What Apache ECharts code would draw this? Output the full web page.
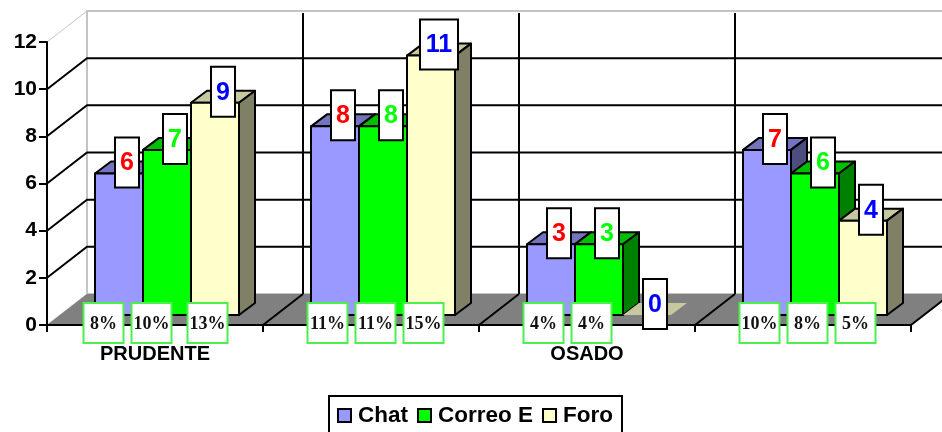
<!DOCTYPE html>
<html>
<head>
<meta charset="utf-8">
<style>
  html, body { margin: 0; padding: 0; background: #fff; overflow: hidden; }
  #chart { width: 942px; height: 432px; }
</style>
<script src="https://cdn.jsdelivr.net/npm/echarts@6/dist/echarts.min.js"></script>
</head>
<body>
<div id="chart"></div>
<script>
const categories = ['PRUDENTE', '', 'OSADO', '']
const yTicks = [2, 4, 6, 8, 10]

const chatValues = [6, 8, 3, 7]
const correoValues = [7, 8, 3, 6]
const foroValues = [9, 11, 0, 4]

const chatPercents = ['8%', '11%', '4%', '10%']
const correoPercents = ['10%', '11%', '4%', '8%']
const foroPercents = ['13%', '15%', '', '5%']

// fake 3d offsets, in pixels
const WALL_DX = 40
const WALL_DY = -31
const BAR_DX = 16
const BAR_DY = -12
const BAR_LIFT = 10

const SANS = '"Liberation Sans", Arial, sans-serif'

const wallItem = (params, api) => {
  const band = api.size([1, 0])[0]
  const left = api.coord([0, 0])[0] - band / 2
  const right = left + band * 4
  const y0 = api.coord([0, 0])[1]
  const y12 = api.coord([0, 12])[1]
  const children = []

  children.push({
    type: 'polygon',
    shape: { points: [[left, y0], [left + WALL_DX, y0 + WALL_DY], [left + WALL_DX, y12 + WALL_DY], [left, y12]] },
    style: { fill: '#fff', stroke: '#c4c4c4', lineWidth: 1 }
  })
  children.push({
    type: 'polygon',
    shape: { points: [[left + WALL_DX, y0 + WALL_DY], [right + WALL_DX, y0 + WALL_DY], [right + WALL_DX, y12 + WALL_DY], [left + WALL_DX, y12 + WALL_DY]] },
    style: { fill: '#fff', stroke: '#c4c4c4', lineWidth: 2 }
  })
  children.push({
    type: 'polygon',
    shape: { points: [[left, y0], [left + WALL_DX, y0 + WALL_DY], [right + WALL_DX, y0 + WALL_DY], [right, y0]] },
    style: { fill: '#808080' }
  })

  yTicks.forEach(t => {
    const y = api.coord([0, t])[1]
    children.push({
      type: 'polyline',
      shape: { points: [[left, y], [left + WALL_DX, y + WALL_DY], [right + WALL_DX, y + WALL_DY]] },
      style: { fill: 'none', stroke: '#000', lineWidth: 2 }
    })
  })

  for (let i = 1; i <= 4; i++) {
    const x = left + band * i
    if (i < 4) {
      children.push({
        type: 'line',
        shape: { x1: x + WALL_DX, y1: y12 + WALL_DY + 2, x2: x + WALL_DX, y2: y0 + WALL_DY },
        style: { stroke: '#000', lineWidth: 2 }
      })
    }
    children.push({
      type: 'line',
      shape: { x1: x, y1: y0, x2: x + WALL_DX, y2: y0 + WALL_DY },
      style: { stroke: '#000', lineWidth: 2 }
    })
  }

  return { type: 'group', children }
}

const labelBox = (cx, cy, w, h, border, text, color, font, z2) => ({
  type: 'group',
  children: [
    {
      type: 'rect',
      z2,
      shape: { x: cx - w / 2, y: cy - h / 2, width: w, height: h },
      style: { fill: '#fff', stroke: border, lineWidth: 2 }
    },
    {
      type: 'text',
      z2: z2 + 1,
      style: { x: cx, y: cy + 1, text, fill: color, font, align: 'center', verticalAlign: 'middle' }
    }
  ]
})

const barItem = (colors, seriesIndex, valueColor) => (params, api) => {
  const cat = api.value(0)
  const value = api.value(1)
  const percent = api.value(2)
  const band = api.size([1, 0])[0]
  const barW = band * 2 / 9
  const center = api.coord([cat, value])[0]
  const x0 = center - band * 5 / 18 + seriesIndex * barW
  const x1 = x0 + barW
  const top = api.coord([cat, value])[1] - BAR_LIFT
  const base = api.coord([cat, 0])[1] - BAR_LIFT
  // an empty bar is only a flat tan patch on the floor, no outline
  const line = value === 0
    ? { stroke: null }
    : { stroke: '#000', lineWidth: 2, lineJoin: 'round' }

  const children = [
    {
      type: 'polygon',
      shape: { points: [[x0, top], [x0 + BAR_DX, top + BAR_DY], [x1 + BAR_DX, top + BAR_DY], [x1, top]] },
      style: { fill: colors.top, ...line }
    },
    {
      type: 'polygon',
      shape: { points: [[x1, top], [x1 + BAR_DX, top + BAR_DY], [x1 + BAR_DX, base + BAR_DY], [x1, base]] },
      style: { fill: colors.side, ...line }
    },
    {
      type: 'rect',
      shape: { x: x0, y: top, width: barW, height: base - top },
      style: { fill: colors.front, ...line }
    },
    labelBox((x0 + x1 + BAR_DX) / 2, top + BAR_DY + 1, value > 9 ? 38 : 24, 50, '#000', String(value), valueColor,
      'bold 25px ' + SANS, 20)
  ]

  if (percent) {
    // the first two labels of PRUDENTE sit further left in the original
    const nudge = cat === 0 && seriesIndex < 2 ? -8 : 0
    children.push(labelBox(x0 + 16.5 + nudge, api.coord([cat, 0])[1] - 2, 40, 40, '#4cf04c', percent, '#111',
      'bold 18px "Liberation Serif", "Times New Roman", serif', 30))
  }

  return { type: 'group', children }
}

const barSeries = (name, values, percents, colors, seriesIndex, valueColor) => ({
  name,
  type: 'custom',
  z: 5,
  silent: true,
  renderItem: barItem(colors, seriesIndex, valueColor),
  encode: { x: 0, y: 1 },
  data: values.map((v, i) => [i, v, percents[i]])
})

const chart = echarts.init(document.getElementById('chart'))

chart.setOption({
  animation: false,
  backgroundColor: '#fff',
  grid: { left: 47, right: 31, top: 42, bottom: 107 },
  legend: {
    left: 329,
    top: 396,
    orient: 'horizontal',
    data: [
      { name: 'Chat', itemStyle: { color: '#9999ff', borderColor: '#000', borderWidth: 2 } },
      { name: 'Correo E', itemStyle: { color: '#00ff00', borderColor: '#000', borderWidth: 2 } },
      { name: 'Foro', itemStyle: { color: '#ffffcc', borderColor: '#000', borderWidth: 2 } }
    ],
    icon: 'rect',
    itemWidth: 13,
    itemHeight: 13,
    itemGap: 9,
    padding: [8, 9, 30, 8],
    backgroundColor: '#fff',
    borderColor: '#000',
    borderWidth: 2,
    textStyle: { fontFamily: SANS, fontWeight: 'bold', fontSize: 22.5, color: '#000', padding: [0, 0, 0, 2] }
  },
  xAxis: {
    type: 'category',
    data: categories,
    z: 3,
    axisLine: { lineStyle: { color: '#000', width: 2 } },
    axisTick: { show: true, alignWithLabel: false, length: 7, lineStyle: { color: '#000', width: 2 } },
    axisLabel: { interval: 0, margin: 19, color: '#000', fontFamily: SANS, fontWeight: 'bold', fontSize: 20 },
    splitLine: { show: false }
  },
  yAxis: {
    type: 'value',
    min: 0,
    max: 12,
    interval: 2,
    z: 3,
    axisLine: { show: true, lineStyle: { color: '#000', width: 2 } },
    axisTick: { show: true, length: 8, lineStyle: { color: '#000', width: 2 } },
    axisLabel: { margin: 10, color: '#000', fontFamily: SANS, fontWeight: 'bold', fontSize: 21 },
    splitLine: { show: false }
  },
  series: [
    {
      name: 'walls',
      type: 'custom',
      z: 1,
      silent: true,
      renderItem: wallItem,
      encode: { x: 0, y: 1 },
      data: [[0, 0]]
    },
    barSeries('Chat', chatValues, chatPercents, { front: '#9999ff', top: '#7373bf', side: '#4d4d80' }, 0, '#ff0000'),
    barSeries('Correo E', correoValues, correoPercents, { front: '#00ff00', top: '#00bf00', side: '#008000' }, 1, '#00ff00'),
    barSeries('Foro', foroValues, foroPercents, { front: '#ffffcc', top: '#c8c8a0', side: '#808066' }, 2, '#0000ff')
  ]
})
</script>
</body>
</html>
